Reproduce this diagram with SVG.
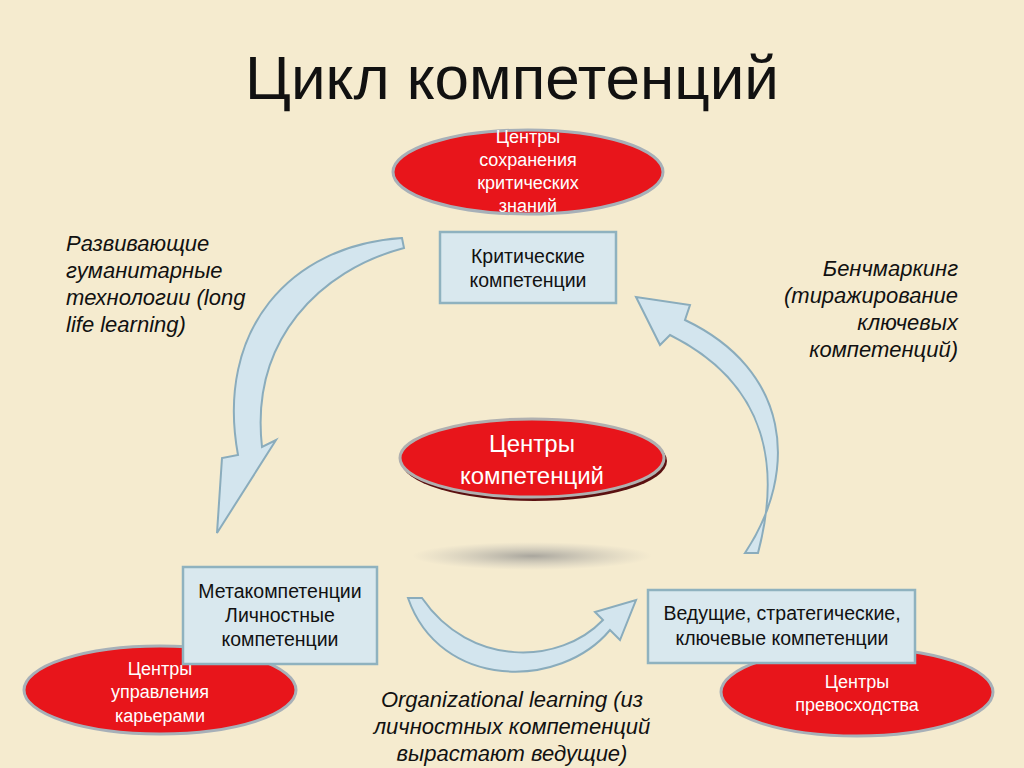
<svg xmlns="http://www.w3.org/2000/svg" width="1024" height="768" viewBox="0 0 1024 768">
<defs>
<radialGradient id="sh" cx="50%" cy="50%" r="50%"><stop offset="0" stop-color="#888" stop-opacity="0.7"/><stop offset="1" stop-color="#aaa" stop-opacity="0"/></radialGradient>
<style>
.ell{fill:#e8151b;stroke:#a7b0b8;stroke-width:3}
.box{fill:#d9e8ee;stroke:#8fb2bf;stroke-width:2.5}
.arr{fill:#d3e5ee;stroke:#8aacbc;stroke-width:2}
.w{font-family:"Liberation Sans",Arial,sans-serif;fill:#fff;text-anchor:middle}
.b{font-family:"Liberation Sans",Arial,sans-serif;fill:#111;text-anchor:middle;font-size:19.5px}
.i{font-family:"Liberation Sans",Arial,sans-serif;fill:#111;font-style:italic;font-size:22px}
</style>
</defs>
<rect width="1024" height="768" fill="#f5ebcf"/>
<text x="512" y="99" font-family="Liberation Sans,Arial,sans-serif" font-size="62" text-anchor="middle" fill="#111">Цикл компетенций</text>
<g id="connectors">
<path class="arr" d="M402,238 C290,245 215,330 238,455 L222,458 L217,533 L276,440 L262,447 C250,340 320,270 404,248 Z"/>
<path class="arr" d="M745,553 C800,470 790,370 685,320 L690,305 L636,297 L660,345 L670,335 C770,385 780,470 758,553 Z"/>
<path class="arr" d="M408,598 C440,690 560,690 610,630 L620,640 L636,600 L595,612 L603,620 C560,665 470,668 422,598 Z"/>
</g>
<ellipse cx="532" cy="556" rx="120" ry="14" fill="url(#sh)"/>
<g id="n_top"><ellipse class="ell" cx="528" cy="172" rx="135" ry="42"/>
<text class="w" font-size="18"><tspan x="528" y="143">Центры</tspan><tspan x="528" y="166">сохранения</tspan><tspan x="528" y="189">критических</tspan><tspan x="528" y="212">знаний</tspan></text></g>
<g id="n_crit"><rect class="box" x="440" y="232" width="176" height="71"/>
<text class="b"><tspan x="528" y="263">Критические</tspan><tspan x="528" y="287">компетенции</tspan></text></g>
<g id="n_center"><ellipse cx="534" cy="461" rx="133" ry="40" fill="#5a1010"/><ellipse class="ell" cx="532" cy="458" rx="132" ry="39" style="stroke:#b0b0b0"/>
<text class="w" font-size="24"><tspan x="532" y="452">Центры</tspan><tspan x="532" y="484">компетенций</tspan></text></g>
<g id="n_left_e"><ellipse class="ell" cx="160" cy="690" rx="136" ry="44"/>
<text class="w" font-size="18"><tspan x="160" y="675">Центры</tspan><tspan x="160" y="698">управления</tspan><tspan x="160" y="722">карьерами</tspan></text></g>
<g id="n_left"><rect class="box" x="183" y="567" width="194" height="97"/>
<text class="b"><tspan x="280" y="598">Метакомпетенции</tspan><tspan x="280" y="622">Личностные</tspan><tspan x="280" y="646">компетенции</tspan></text></g>
<g id="n_right_e"><ellipse class="ell" cx="857" cy="692" rx="136" ry="44"/>
<text class="w" font-size="18"><tspan x="857" y="688">Центры</tspan><tspan x="857" y="711">превосходства</tspan></text></g>
<g id="n_right"><rect class="box" x="648" y="590" width="267" height="73"/>
<text class="b"><tspan x="782" y="620">Ведущие, стратегические,</tspan><tspan x="782" y="645">ключевые компетенции</tspan></text></g>
<text class="i"><tspan x="66" y="251">Развивающие</tspan><tspan x="66" y="278">гуманитарные</tspan><tspan x="66" y="305">технологии (long</tspan><tspan x="66" y="332">life learning)</tspan></text>
<text class="i" text-anchor="end"><tspan x="958" y="276">Бенчмаркинг</tspan><tspan x="958" y="303">(тиражирование</tspan><tspan x="958" y="330">ключевых</tspan><tspan x="958" y="357">компетенций)</tspan></text>
<text class="i" text-anchor="middle"><tspan x="512" y="707">Organizational learning (из</tspan><tspan x="512" y="734">личностных компетенций</tspan><tspan x="512" y="761">вырастают ведущие)</tspan></text>
</svg>
